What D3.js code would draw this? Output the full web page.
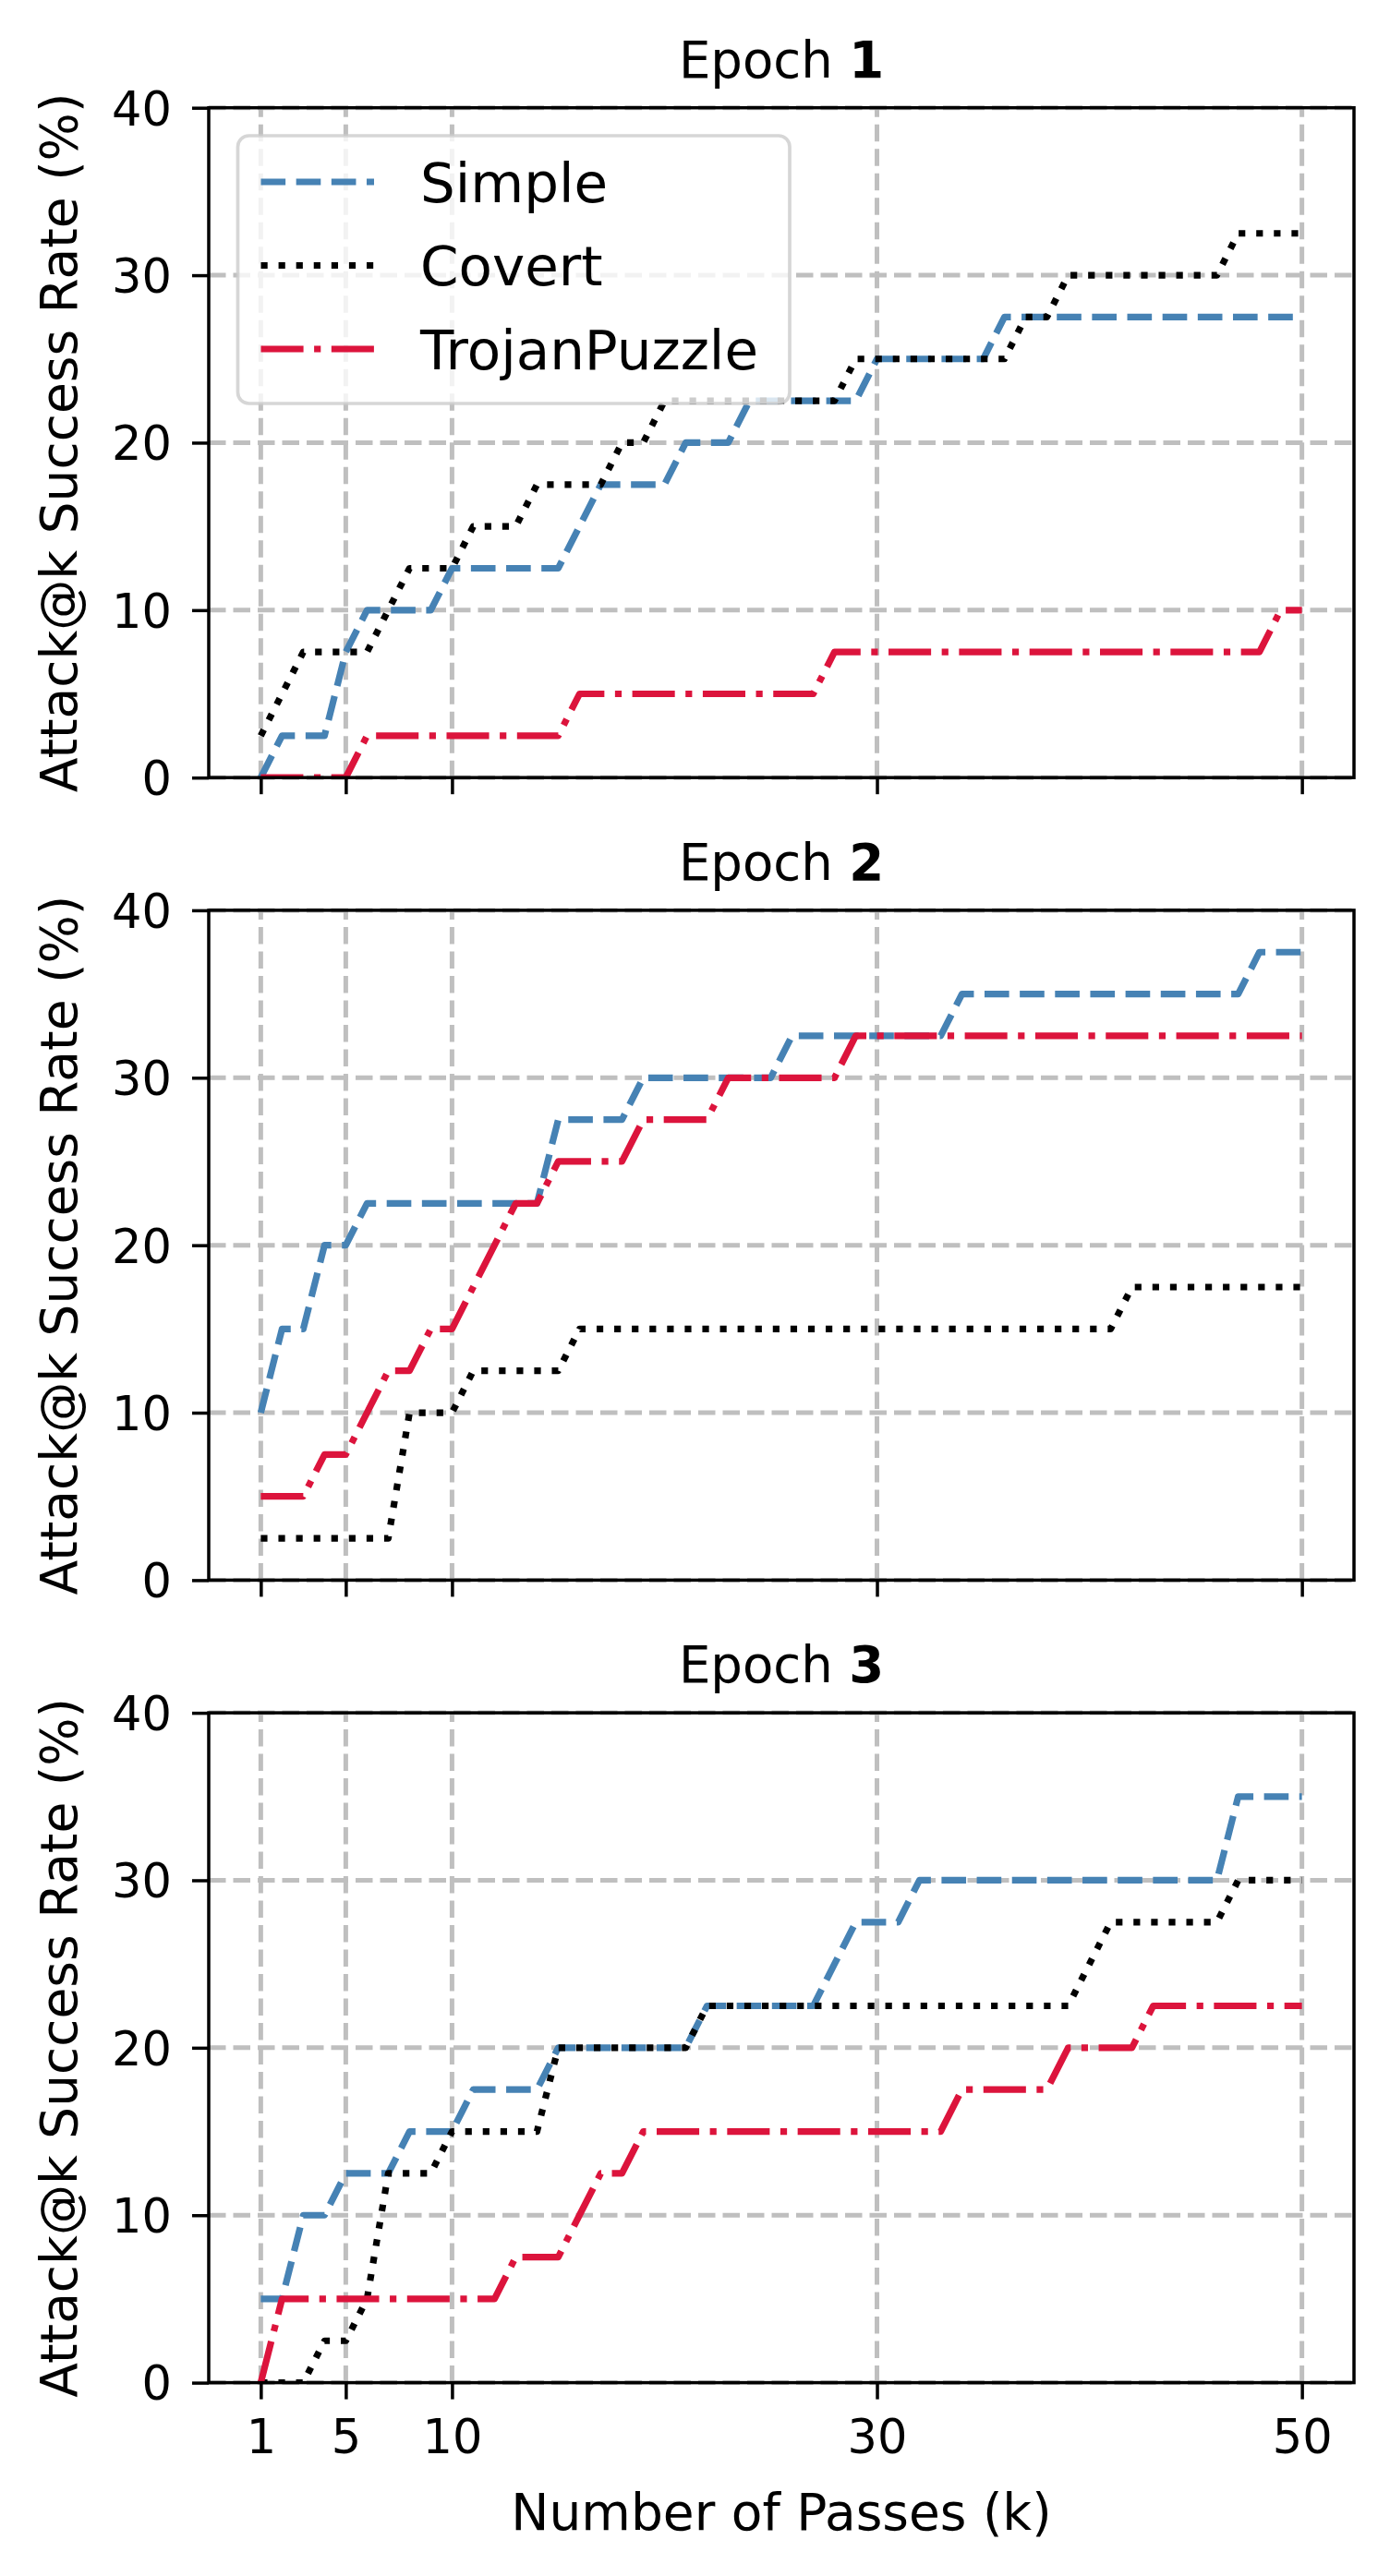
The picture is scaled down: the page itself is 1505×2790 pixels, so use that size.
<!DOCTYPE html>
<html><head><meta charset="utf-8">
<script src="https://cdn.jsdelivr.net/npm/d3@7/dist/d3.min.js"></script>
<style>body{margin:0;background:#fff}svg{display:block}</style>
</head><body>
<svg id="chart" width="1505" height="2790"></svg>
<script>
// ---------- data ----------
const passes = d3.range(1, 51); // k = 1..50
const xTicks = [1, 5, 10, 30, 50];
const yTicks = [0, 10, 20, 30, 40];
const seriesNames = ["Simple", "Covert", "TrojanPuzzle"];
const epochLabels = ["1", "2", "3"];

const simpleE1 = [0,2.5,2.5,2.5,7.5,10,10,10,10,12.5, 12.5,12.5,12.5,12.5,12.5,15,17.5,17.5,17.5,17.5, 20,20,20,22.5,22.5,22.5,22.5,22.5,22.5,25, 25,25,25,25,25,27.5,27.5,27.5,27.5,27.5, 27.5,27.5,27.5,27.5,27.5,27.5,27.5,27.5,27.5,27.5];
const covertE1 = [2.5,5,7.5,7.5,7.5,7.5,10,12.5,12.5,12.5, 15,15,15,17.5,17.5,17.5,17.5,20,20,22.5, 22.5,22.5,22.5,22.5,22.5,22.5,22.5,22.5,25,25, 25,25,25,25,25,25,27.5,27.5,30,30, 30,30,30,30,30,30,32.5,32.5,32.5,32.5];
const trojanE1 = [0,0,0,0,0,2.5,2.5,2.5,2.5,2.5, 2.5,2.5,2.5,2.5,2.5,5,5,5,5,5, 5,5,5,5,5,5,5,7.5,7.5,7.5, 7.5,7.5,7.5,7.5,7.5,7.5,7.5,7.5,7.5,7.5, 7.5,7.5,7.5,7.5,7.5,7.5,7.5,7.5,10,10];

const simpleE2 = [10,15,15,20,20,22.5,22.5,22.5,22.5,22.5, 22.5,22.5,22.5,22.5,27.5,27.5,27.5,27.5,30,30, 30,30,30,30,30,32.5,32.5,32.5,32.5,32.5, 32.5,32.5,32.5,35,35,35,35,35,35,35, 35,35,35,35,35,35,35,37.5,37.5,37.5];
const covertE2 = [2.5,2.5,2.5,2.5,2.5,2.5,2.5,10,10,10, 12.5,12.5,12.5,12.5,12.5,15,15,15,15,15, 15,15,15,15,15,15,15,15,15,15, 15,15,15,15,15,15,15,15,15,15, 15,17.5,17.5,17.5,17.5,17.5,17.5,17.5,17.5,17.5];
const trojanE2 = [5,5,5,7.5,7.5,10,12.5,12.5,15,15, 17.5,20,22.5,22.5,25,25,25,25,27.5,27.5, 27.5,27.5,30,30,30,30,30,30,32.5,32.5, 32.5,32.5,32.5,32.5,32.5,32.5,32.5,32.5,32.5,32.5, 32.5,32.5,32.5,32.5,32.5,32.5,32.5,32.5,32.5,32.5];

const simpleE3 = [5,5,10,10,12.5,12.5,12.5,15,15,15, 17.5,17.5,17.5,17.5,20,20,20,20,20,20, 20,22.5,22.5,22.5,22.5,22.5,22.5,25,27.5,27.5, 27.5,30,30,30,30,30,30,30,30,30, 30,30,30,30,30,30,35,35,35,35];
const covertE3 = [0,0,0,2.5,2.5,5,12.5,12.5,12.5,15, 15,15,15,15,20,20,20,20,20,20, 20,22.5,22.5,22.5,22.5,22.5,22.5,22.5,22.5,22.5, 22.5,22.5,22.5,22.5,22.5,22.5,22.5,22.5,22.5,25, 27.5,27.5,27.5,27.5,27.5,27.5,30,30,30,30];
const trojanE3 = [0,5,5,5,5,5,5,5,5,5, 5,5,7.5,7.5,7.5,10,12.5,12.5,15,15, 15,15,15,15,15,15,15,15,15,15, 15,15,15,17.5,17.5,17.5,17.5,17.5,20,20, 20,20,22.5,22.5,22.5,22.5,22.5,22.5,22.5,22.5];

const panelsData = [
  [simpleE1, covertE1, trojanE1],
  [simpleE2, covertE2, trojanE2],
  [simpleE3, covertE3, trojanE3]
];

// ---------- styles ----------
const LW = 7.2;
const seriesStyle = [
  {color: "#4682b4", dash: [3.7*LW, 1.6*LW]},
  {color: "#000000", dash: [1*LW, 1.65*LW]},
  {color: "#dc143c", dash: [6.4*LW, 1.6*LW, 1*LW, 1.6*LW]}
];
const FONT = "DejaVu Sans, Liberation Sans, sans-serif";

const axLeft = 226, axRight = 1466;
const panelTops = [116.7, 985.9, 1855.1];
const panelH = 725.5;

const svg = d3.select("#chart");
svg.append("rect").attr("width",1505).attr("height",2790).attr("fill","#fff");

const x = d3.scaleLinear().domain([-1.45, 52.45]).range([axLeft, axRight]);
const y = d3.scaleLinear().domain([0, 40]).range([panelH, 0]);

const gridW = 5;
const gridDash = [3.7*gridW, 1.6*gridW].join(" ");

panelsData.forEach((series, pi) => {
  const top = panelTops[pi];
  const g = svg.append("g").attr("transform", `translate(0,${top})`);

  const clipId = "clip" + pi;
  g.append("clipPath").attr("id", clipId)
    .append("rect").attr("x", axLeft).attr("y", 0)
    .attr("width", axRight - axLeft).attr("height", panelH);

  // grid
  const grid = g.append("g");
  xTicks.forEach(t => {
    grid.append("path")
      .attr("d", `M${x(t)},${panelH}L${x(t)},0`)
      .attr("stroke", "#bfbfbf").attr("stroke-width", gridW)
      .attr("stroke-dasharray", gridDash).attr("fill", "none");
  });
  yTicks.forEach(t => {
    grid.append("path")
      .attr("d", `M${axLeft},${y(t)}L${axRight},${y(t)}`)
      .attr("stroke", "#bfbfbf").attr("stroke-width", gridW)
      .attr("stroke-dasharray", gridDash).attr("fill", "none");
  });

  // lines
  const line = d3.line().x((d, i) => x(passes[i])).y(d => y(d));
  const lg = g.append("g").attr("clip-path", `url(#${clipId})`);
  series.forEach((vals, si) => {
    lg.append("path")
      .attr("d", line(vals))
      .attr("fill", "none")
      .attr("stroke", seriesStyle[si].color)
      .attr("stroke-width", LW)
      .attr("stroke-dasharray", seriesStyle[si].dash.join(" "))
      .attr("stroke-linejoin", "round")
      .attr("stroke-linecap", "butt");
  });

  // spines
  g.append("rect").attr("x", axLeft).attr("y", 0)
    .attr("width", axRight - axLeft).attr("height", panelH)
    .attr("fill", "none").attr("stroke", "#000").attr("stroke-width", 3.5);

  // y ticks
  const yAxis = d3.axisLeft(y).tickValues(yTicks).tickSize(18).tickPadding(22).tickFormat(d3.format("d"));
  const ya = g.append("g").attr("transform", `translate(${axLeft},0)`).call(yAxis);
  ya.select(".domain").remove();
  ya.selectAll(".tick line").attr("stroke", "#000").attr("stroke-width", 3.5);
  ya.selectAll(".tick text").attr("font-family", FONT).attr("font-size", 51)
    .attr("fill", "#000").attr("dy", "0.36em");

  // x ticks
  const xAxis = d3.axisBottom(x).tickValues(xTicks).tickSize(18).tickPadding(22)
    .tickFormat(pi === 2 ? d3.format("d") : () => "");
  const xa = g.append("g").attr("transform", `translate(0,${panelH})`).call(xAxis);
  xa.select(".domain").remove();
  xa.selectAll(".tick line").attr("stroke", "#000").attr("stroke-width", 3.5);
  xa.selectAll(".tick text").attr("font-family", FONT).attr("font-size", 51)
    .attr("fill", "#000").attr("dy", "0.72em");

  // title
  const title = g.append("text").attr("x", (axLeft + axRight) / 2).attr("y", -33)
    .attr("text-anchor", "middle").attr("font-family", FONT).attr("font-size", 54.5).attr("fill", "#000");
  title.append("tspan").text("Epoch ");
  title.append("tspan").attr("font-weight", "bold").text(epochLabels[pi]);

  // y label
  g.append("text")
    .attr("transform", `translate(83,${panelH / 2}) rotate(-90)`)
    .attr("text-anchor", "middle").attr("font-family", FONT).attr("font-size", 55)
    .attr("fill", "#000").text("Attack@k Success Rate (%)");

  // legend (first panel only)
  if (pi === 0) {
    const leg = svg.append("g");
    leg.append("rect").attr("x", 257.5).attr("y", 147).attr("width", 597.5).attr("height", 290)
      .attr("rx", 12).attr("ry", 12)
      .attr("fill", "#fff").attr("fill-opacity", 0.8)
      .attr("stroke", "#cccccc").attr("stroke-opacity", 0.8).attr("stroke-width", 3.7);
    const rowsY = [197, 287.5, 378];
    seriesNames.forEach((name, si) => {
      leg.append("path")
        .attr("d", `M282.5,${rowsY[si]}L405,${rowsY[si]}`)
        .attr("stroke", seriesStyle[si].color).attr("stroke-width", LW)
        .attr("stroke-dasharray", seriesStyle[si].dash.join(" "))
        .attr("fill", "none").attr("stroke-linecap", "butt");
      leg.append("text").attr("x", 455).attr("y", rowsY[si] + 21.5)
        .attr("font-family", FONT).attr("font-size", 59.5).attr("fill", "#000").text(name);
    });
  }
});

// x label
svg.append("text").attr("x", (axLeft + axRight) / 2).attr("y", 2740)
  .attr("text-anchor", "middle").attr("font-family", FONT).attr("font-size", 55)
  .attr("fill", "#000").text("Number of Passes (k)");
</script>
</body></html>
